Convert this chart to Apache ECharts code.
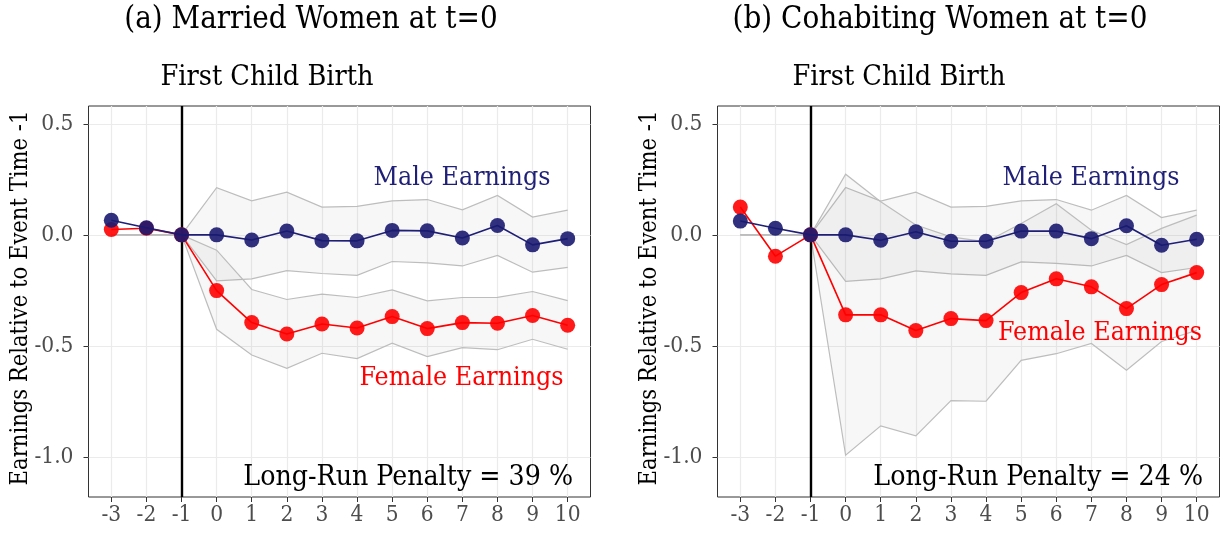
<!DOCTYPE html>
<html>
<head>
<meta charset="utf-8">
<script src="https://cdn.jsdelivr.net/npm/echarts@6/dist/echarts.min.js"></script>
<style>
html,body{margin:0;padding:0;background:#fff;}
#chart{width:1220px;height:537px;}
</style>
</head>
<body>
<div id="chart"></div>
<script>
// ---- data ----
const eventTimes = [-3, -2, -1, 0, 1, 2, 3, 4, 5, 6, 7, 8, 9, 10];
const yTicks = [-1.0, -0.5, 0.0, 0.5];

// Panel (a) Married women
const maleA   = [0.066, 0.032, 0, 0, -0.023, 0.017, -0.026, -0.027, 0.020, 0.018, -0.014, 0.042, -0.045, -0.017];
const femaleA = [0.024, 0.030, 0, -0.251, -0.395, -0.446, -0.401, -0.419, -0.368, -0.422, -0.395, -0.398, -0.363, -0.407];
const maleHiA = [0, 0, 0, 0.212, 0.153, 0.192, 0.125, 0.128, 0.153, 0.159, 0.113, 0.177, 0.080, 0.111];
const maleLoA = [0, 0, 0, -0.207, -0.198, -0.161, -0.174, -0.182, -0.120, -0.126, -0.140, -0.093, -0.168, -0.146];
const femHiA  = [0, 0, 0, -0.069, -0.246, -0.291, -0.267, -0.282, -0.248, -0.297, -0.282, -0.281, -0.255, -0.296];
const femLoA  = [0, 0, 0, -0.425, -0.541, -0.601, -0.533, -0.557, -0.488, -0.548, -0.508, -0.517, -0.470, -0.515];

// Panel (b) Cohabiting women
const maleB   = [0.062, 0.030, 0, 0, -0.024, 0.014, -0.029, -0.029, 0.017, 0.017, -0.017, 0.041, -0.047, -0.020];
const femaleB = [0.125, -0.096, 0, -0.360, -0.360, -0.431, -0.377, -0.386, -0.260, -0.198, -0.234, -0.332, -0.224, -0.170];
const maleHiB = [0, 0, 0, 0.213, 0.152, 0.192, 0.125, 0.128, 0.153, 0.159, 0.111, 0.177, 0.078, 0.111];
const maleLoB = [0, 0, 0, -0.209, -0.198, -0.162, -0.176, -0.182, -0.122, -0.128, -0.140, -0.093, -0.170, -0.147];
const femHiB  = [0, 0, 0, 0.273, 0.149, 0.044, -0.009, -0.032, 0.051, 0.140, 0.021, -0.044, 0.029, 0.089];
const femLoB  = [0, 0, 0, -0.992, -0.860, -0.905, -0.746, -0.749, -0.565, -0.535, -0.489, -0.609, -0.480, -0.430];

const panelTitles = ['(a) Married Women at t=0', '(b) Cohabiting Women at t=0'];
const eventLabel = 'First Child Birth';
const yTitle = 'Earnings Relative to Event Time -1';
const maleLabel = 'Male Earnings';
const femaleLabel = 'Female Earnings';
const penaltyLabels = ['Long-Run Penalty = 39 %', 'Long-Run Penalty = 24 %'];

// ---- styling ----
const FONT = '"DejaVu Serif Condensed", "DejaVu Serif", serif';
const NAVY = '#1f1f78';
const RED = '#ff0000';
const BAND_FILL = 'rgba(128,128,128,0.065)';
const BAND_LINE = '#bdbdbd';

const chart = echarts.init(document.getElementById('chart'), null, {renderer: 'canvas'});

const grids = [
  {left: 88.5, top: 106, width: 502, height: 391},
  {left: 717.5, top: 106, width: 502, height: 391}
];

function zip(lo, hi) { return eventTimes.map((x, i) => [x, lo[i], hi[i]]); }

function bandSeries(idx, lo, hi, withVLine) {
  const s = {
    type: 'custom',
    xAxisIndex: idx, yAxisIndex: idx,
    silent: true, z: 1,
    data: zip(lo, hi),
    encode: {x: 0, y: [1, 2]},
    renderItem: function (params, api) {
      if (params.dataIndex !== 0) return null;
      const up = eventTimes.map((x, i) => api.coord([x, hi[i]]));
      const dn = eventTimes.map((x, i) => api.coord([x, lo[i]]));
      const poly = up.concat(dn.slice().reverse());
      return {
        type: 'group',
        children: [
          {type: 'polygon', shape: {points: poly}, style: {fill: BAND_FILL, stroke: null}},
          {type: 'polyline', shape: {points: up}, style: {fill: null, stroke: BAND_LINE, lineWidth: 1.2}},
          {type: 'polyline', shape: {points: dn}, style: {fill: null, stroke: BAND_LINE, lineWidth: 1.2}}
        ]
      };
    }
  };
  if (withVLine) {
    s.markLine = {
      silent: true, symbol: ['none', 'none'], animation: false, z: 2,
      label: {show: false},
      lineStyle: {color: '#000', width: 2.4, type: 'solid', opacity: 1},
      emphasis: {disabled: true},
      data: [{xAxis: -1}]
    };
  }
  return s;
}

function lineSeries(idx, vals, color, pointColor, z) {
  return {
    type: 'line',
    xAxisIndex: idx, yAxisIndex: idx,
    data: eventTimes.map((x, i) => [x, vals[i]]),
    symbol: 'circle', symbolSize: 15, showSymbol: true,
    lineStyle: {color: color, width: 1.6},
    itemStyle: {color: pointColor, borderWidth: 0},
    z: z, silent: true
  };
}

function xAxis(idx) {
  return {
    type: 'value', gridIndex: idx, min: -3.65, max: 10.65, position: 'bottom',
    axisLine: {show: false, onZero: false},
    axisTick: {show: true, customValues: eventTimes, length: 5, lineStyle: {color: '#333', width: 1}},
    axisLabel: {show: true, customValues: eventTimes, formatter: v => String(v), color: '#4d4d4d',
                fontFamily: FONT, fontSize: 22.5, margin: 7},
    splitLine: {show: true, lineStyle: {color: '#ebebeb', width: 1.2}},
    minorSplitLine: {show: false}
  };
}
function yAxis(idx) {
  return {
    type: 'value', gridIndex: idx, min: -1.18, max: 0.58, position: 'left',
    axisLine: {show: false, onZero: false},
    axisTick: {show: true, customValues: yTicks, length: 5, lineStyle: {color: '#333', width: 1}},
    axisLabel: {show: true, customValues: yTicks, formatter: v => v.toFixed(1), color: '#4d4d4d',
                fontFamily: FONT, fontSize: 22.5, margin: 15},
    splitLine: {show: true, lineStyle: {color: '#ebebeb', width: 1.2}}
  };
}

function txt(x, y, text, size, color, align, rotation) {
  return {
    type: 'text', x: x, y: y, rotation: rotation || 0, silent: true, z: 100,
    style: {text: text, fill: color, font: size + 'px ' + FONT, align: align || 'center', verticalAlign: 'middle'}
  };
}

const offs = [0, 629];
const graphics = [];
const titleX = [311, 940];
const eventX = [267, 899];
const maleXY = [[462, 178], [1091, 178]];
const femaleXY = [[461.5, 378], [1100, 333]];
const penaltyX = [573, 1203];
for (let p = 0; p < 2; p++) {
  graphics.push(txt(titleX[p], 20, panelTitles[p], 31, '#000'));
  graphics.push(txt(eventX[p], 78, eventLabel, 28.5, '#000'));
  graphics.push(txt(21 + offs[p], 298, yTitle, 23.5, '#000', 'center', Math.PI / 2));
  graphics.push(txt(maleXY[p][0], maleXY[p][1], maleLabel, 26.5, NAVY));
  graphics.push(txt(femaleXY[p][0], femaleXY[p][1], femaleLabel, 26.5, RED));
  graphics.push(txt(penaltyX[p], 478, penaltyLabels[p], 28.2, '#000', 'right'));
}

const option = {
  animation: false,
  backgroundColor: '#fff',
  grid: grids.map(g => Object.assign({show: true, borderColor: '#333', borderWidth: 1, backgroundColor: 'transparent'}, g)),
  xAxis: [xAxis(0), xAxis(1)],
  yAxis: [yAxis(0), yAxis(1)],
  series: [
    bandSeries(0, maleLoA, maleHiA, true),
    bandSeries(0, femLoA, femHiA, false),
    lineSeries(0, femaleA, RED, 'rgba(255,0,0,0.9)', 3),
    lineSeries(0, maleA, NAVY, 'rgba(25,25,112,0.9)', 4),
    bandSeries(1, maleLoB, maleHiB, true),
    bandSeries(1, femLoB, femHiB, false),
    lineSeries(1, femaleB, RED, 'rgba(255,0,0,0.9)', 3),
    lineSeries(1, maleB, NAVY, 'rgba(25,25,112,0.9)', 4)
  ],
  graphic: graphics
};
chart.setOption(option);
</script>
</body>
</html>
